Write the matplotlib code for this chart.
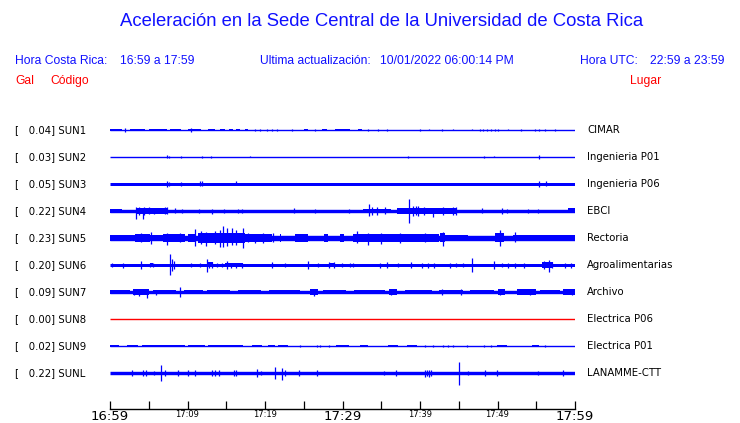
import matplotlib
matplotlib.use("Agg")
import matplotlib.pyplot as plt

# ---------------- data ----------------
codes = ["SUN1", "SUN2", "SUN3", "SUN4", "SUN5", "SUN6", "SUN7", "SUN8", "SUN9", "SUNL"]
peaks = [0.04, 0.03, 0.05, 0.22, 0.23, 0.20, 0.09, 0.00, 0.02, 0.22]
places = ["CIMAR", "Ingenieria P01", "Ingenieria P06", "EBCI", "Rectoria",
          "Agroalimentarias", "Archivo", "Electrica P06", "Electrica P01", "LANAMME-CTT"]
# baseline noise half-amplitude of each trace (display units)
base_noise = [0.5, 0.5, 1.5, 1.7, 2.7, 1.5, 1.7, 0.5, 0.5, 1.7]
trace_colors = ["blue"] * 7 + ["#ff0000"] + ["blue"] * 2

tick_minutes = list(range(0, 61, 5))
tick_labels = ["16:59", "", "17:09", "", "17:19", "", "17:29", "", "17:39", "", "17:49", "", "17:59"]
major_labels = ["16:59", "17:29", "17:59"]

# bursts: (start minute, end minute, half amplitude)
sun1_bursts = [(0, 1.5, 1.2), (2.6, 4.5, 1.0), (5.0, 7.3, 1.2), (7.7, 9.2, 1.2), (10.0, 11.8, 1.3),
               (12.7, 13.5, 1.1), (14.2, 14.8, 1.2), (15.3, 15.9, 1.0), (16.3, 16.8, 1.0),
               (17.4, 17.8, 1.2), (25.0, 25.6, 1.2), (27.3, 28.0, 1.0), (29.0, 31.0, 1.2), (32.0, 32.5, 1.1)]
sun2_bursts = []
sun3_bursts = []
sun4_bursts = [(0, 1.5, 2.2), (3.3, 7.5, 2.6), (32.6, 36.3, 2.3), (37.0, 44.7, 3.0), (59.1, 60, 2.5)]
sun5_bursts = [(0, 3.2, 3.4), (3.2, 5.2, 3.8), (5.2, 6.9, 3.3), (6.9, 7.5, 4.4), (7.5, 9.7, 3.8),
               (10.1, 11.0, 4.4), (11.4, 13.5, 4.8), (13.5, 17.4, 5.4), (17.4, 20.9, 3.8), (21.9, 22.1, 4.2),
               (23.9, 25.6, 3.8), (27.6, 28.1, 3.6), (29.7, 30.2, 3.6), (31.4, 36.8, 4.0),
               (36.8, 42.4, 3.6), (42.6, 43.2, 4.5), (43.2, 46.2, 3.1), (49.7, 50.8, 4.5),
               (52.0, 55.0, 3.3), (55.0, 60.0, 3.4)]
sun6_bursts = [(5.1, 5.6, 2.0), (12.7, 13.3, 2.5), (14.8, 17.2, 2.1), (28.2, 29.0, 2.4), (55.7, 57.2, 2.7)]
sun7_bursts = [(0, 2.6, 2.2), (3.0, 5.0, 2.6), (5.5, 8.5, 2.2), (9.5, 12.0, 2.2), (12.5, 15.5, 2.2),
               (16.5, 19.5, 2.2), (20.5, 24.5, 2.2), (25.8, 26.9, 2.8), (27.5, 30.5, 2.2),
               (31.5, 35.5, 2.2), (36.0, 37.0, 2.6), (38.0, 41.5, 2.2), (42.5, 45.5, 2.4),
               (46.5, 49.5, 2.2), (50.0, 51.0, 2.6), (52.5, 55.0, 2.6), (55.5, 58.0, 2.2), (58.5, 60, 2.6)]
sun8_bursts = []
sun9_bursts = [(0, 1.1, 1.0), (2.2, 3.6, 1.0), (4.1, 9.7, 1.2), (10.1, 12.3, 1.0), (12.7, 17.2, 1.2),
               (18.3, 19.6, 1.0), (20.4, 21.3, 1.0), (21.7, 23.0, 1.2), (29.2, 30.8, 1.0),
               (32.3, 33.3, 1.0), (35.9, 37.2, 1.0), (38.3, 39.6, 1.0), (49.9, 51.2, 1.0), (54.4, 55.3, 1.2)]
sunl_bursts = []

# spikes: (minute, amplitude up, amplitude down)
sun1_spikes = [(1.9, 2.0, 2.0), (10.5, 2.0, 2.0), (18.7, 1.0, 0.6), (19.4, 0.8, 0.8), (20.3, 0.8, 0.8),
               (20.9, 1.0, 0.8), (21.5, 1.2, 1.2), (23.5, 1, 1), (26.5, 1, 1), (33.3, 1, 1),
               (34.6, 1.2, 1.2), (35.8, 0.8, 1.0), (40.0, 1.2, 1.2), (41.2, 0.8, 0.5), (42.8, 0.5, 1.0),
               (44.2, 1.0, 0.5), (46.7, 1.0, 0.5), (47.7, 1.2, 1.2), (48.1, 1.0, 1.0), (48.6, 1.0, 1.0),
               (49.2, 1.3, 1.3), (49.7, 1.2, 1.2), (50.1, 1.0, 1.0), (51.4, 1.0, 0.5), (53.0, 0.5, 1.0),
               (54.8, 1.2, 1.2), (55.3, 1.2, 1.2), (56.1, 1.2, 0.8), (57.4, 1.2, 1.2)]
sun2_spikes = [(7.3, 1.5, 1.5), (7.6, 1.0, 1.5), (9.2, 1.3, 1.3), (11.9, 0, 0.8), (13.0, 0, 0.8),
               (18.1, 0.8, 0), (38.5, 0, 0.8), (48.2, 0, 0.8), (49.5, 0.8, 0), (55.3, 2.3, 2.3)]
sun3_spikes = [(7.4, 2.7, 2.7), (7.6, 2.3, 2.3), (9.2, 2.0, 2.0), (11.6, 2.5, 2.5), (11.9, 2.5, 2.5),
               (16.3, 2.5, 1.5), (55.3, 3.3, 3.3), (56.2, 2.5, 2.5)]
sun4_spikes = [(3.4, 4.3, 8.0), (3.7, 4, 4), (4.2, 3, 7.6), (4.4, 4, 4), (5.0, 3.5, 3), (5.7, 3, 3.5),
               (7.1, 3.5, 3.5), (7.4, 3.5, 3.5), (8.4, 2.5, 2.5), (9.3, 2, 2), (11.5, 1.8, 1.8),
               (13.2, 1.5, 3.5), (14.7, 2, 2), (16.5, 2.2, 2.2), (17, 2.2, 2.2), (23.8, 2.5, 2.5),
               (26.5, 2, 2), (30.9, 2, 2), (33.4, 6.7, 5), (33.8, 4, 4), (34.5, 4, 4), (35.5, 3.5, 3.5),
               (38.6, 12, 11.7), (39.1, 5, 5), (39.5, 4.5, 4.5), (39.8, 5, 5), (40.5, 4, 4), (41.7, 3, 6),
               (43, 4, 4), (44.3, 4, 4), (44.6, 4, 4), (48, 2.5, 2.5), (50.6, 3, 3), (51.2, 2, 2),
               (53.9, 2, 2), (55.2, 2, 2)]
sun5_spikes = [(4.0, 5, 4), (5.3, 6, 6), (7.3, 4.5, 6.7), (9.0, 5, 4), (11.0, 9, 7.7), (11.8, 7, 6),
               (12.4, 6, 8), (13.5, 7, 6), (14.2, 8, 9), (14.6, 12, 9), (15.1, 10, 8), (15.7, 10, 7),
               (16.3, 8, 7), (17.1, 10, 10), (17.8, 5, 4), (18.7, 4, 5), (19.8, 5, 5), (21.0, 4.5, 4.5),
               (31.9, 7, 5), (33.3, 5, 7), (35.0, 5, 6), (37.4, 5, 5), (40.6, 4.5, 4.5), (43.0, 6, 8.3),
               (50.3, 7.7, 8), (52.3, 6, 4)]
sun6_spikes = [(0.2, 2, 2), (1.7, 2.5, 2.5), (3.95, 3.5, 3.5), (5.1, 2, 2), (5.5, 2, 2), (7.8, 11, 10),
               (8.0, 6, 6), (8.2, 4, 4), (10.4, 2, 2), (11.6, 2, 2), (12.5, 6, 7), (12.8, 3, 3),
               (13.2, 3, 3), (13.8, 2, 2), (14.4, 2, 2), (15.1, 3.5, 4), (15.6, 2.5, 2.5), (16.3, 2.5, 2.5),
               (17.0, 2.5, 2.5), (20.9, 3, 3), (22.6, 2, 2), (25.5, 3.5, 3.5), (26.9, 2, 2), (28.2, 3, 3),
               (28.9, 3, 3), (29.9, 2, 2), (31.0, 2, 2), (31.4, 2, 2), (34.8, 2.5, 2.5), (35.7, 3, 3),
               (37.2, 2, 2), (38.9, 3, 3), (40.2, 2.5, 2.5), (41.0, 2.5, 2.5), (41.8, 2.5, 2.5),
               (43.9, 2.5, 2.5), (44.7, 2, 2), (45.6, 2, 2), (46.7, 7, 7), (49.5, 3.5, 3.5), (50.6, 2, 2),
               (51.4, 2.5, 2.5), (52.2, 2.5, 2.5), (53.4, 2.5, 2.5), (56.0, 3.5, 3.5), (56.6, 5, 7),
               (57.0, 3, 3), (58.7, 2.5, 2.5), (59.5, 2.5, 2.5)]
sun7_spikes = [(3.1, 3, 3), (3.8, 3, 3.5), (4.8, 3, 5.7), (5.9, 2.5, 3), (9.0, 5, 4.5), (26.3, 3.5, 3.5),
               (36.3, 3, 3), (42.8, 3, 3), (45.3, 3, 3), (50.3, 3, 3), (54.2, 3, 3), (59.6, 3, 3)]
sun8_spikes = []
sun9_spikes = [(24.5, 1, 1), (26.7, 1, 1), (27.1, 1, 1), (28.2, 1, 1), (40.6, 1.3, 1.3), (41.7, 1, 1),
               (43.0, 1, 1), (43.6, 1.2, 1.2), (44.3, 1, 1), (46.0, 1, 1), (48.2, 1, 1), (49.2, 1, 1),
               (56.1, 1, 1)]
sunl_spikes = [(2.9, 2.5, 2.5), (4.2, 2.5, 2.5), (4.6, 2.5, 2.5), (5.7, 2, 2), (6.6, 8.3, 7.7),
               (7.1, 2.5, 2.5), (8.8, 2.5, 2.5), (10.0, 2.5, 2.5), (11.0, 2.5, 2.5), (13.2, 2.5, 2.5),
               (13.6, 2.5, 2.5), (14.1, 2.5, 2.5), (16.0, 2.5, 2.5), (16.3, 2.5, 2.5), (19.0, 3.7, 3.7),
               (19.5, 2, 2), (21.3, 6.3, 6.3), (22.2, 5.3, 7.3), (22.6, 2.5, 2.5), (24.4, 3, 3),
               (26.7, 2.5, 2.5), (35.4, 2, 2), (36.9, 3, 3), (40.6, 3.5, 3.5), (40.9, 3, 3), (41.1, 3.5, 3.5),
               (41.4, 2.5, 2.5), (45.0, 11.3, 12.3), (46.2, 2, 2), (48.4, 2.5, 2.5), (49.9, 2.5, 2.5),
               (55.2, 2, 2), (58.5, 2.5, 2.5)]

all_bursts = [sun1_bursts, sun2_bursts, sun3_bursts, sun4_bursts, sun5_bursts,
              sun6_bursts, sun7_bursts, sun8_bursts, sun9_bursts, sunl_bursts]
all_spikes = [sun1_spikes, sun2_spikes, sun3_spikes, sun4_spikes, sun5_spikes,
              sun6_spikes, sun7_spikes, sun8_spikes, sun9_spikes, sunl_spikes]

# ---------------- layout ----------------
W, H = 740, 423
fig = plt.figure(figsize=(W / 100, H / 100), dpi=100)
fig.patch.set_facecolor("white")

ROW_PX = 27.0
first_row_px = 130.0
ax_left, ax_right = 110, 575
ax_top, ax_bottom = 118, 409
ax = fig.add_axes([ax_left / W, 1 - ax_bottom / H, (ax_right - ax_left) / W, (ax_bottom - ax_top) / H])
ax.set_xlim(0, 60)
ax.set_ylim((ax_bottom - first_row_px) / ROW_PX, (ax_top - first_row_px) / ROW_PX)
ax.patch.set_alpha(0)
for s in ["top", "left", "right"]:
    ax.spines[s].set_visible(False)
ax.spines["bottom"].set_linewidth(1.0)
ax.tick_params(axis="y", left=False, labelleft=False)
ax.set_xticks(tick_minutes)
ax.set_xticklabels(tick_labels)
ax.tick_params(axis="x", direction="in", length=5.8, width=0.9, pad=0.5, colors="black")
for lab in ax.get_xticklabels():
    if lab.get_text() in major_labels:
        lab.set_fontsize(9.5)
    else:
        lab.set_fontsize(6)
    lab.set_family("DejaVu Sans")

u = 1.0 / ROW_PX  # display units -> row units

for i in range(len(codes)):
    c = trace_colors[i]
    b = base_noise[i]
    lw = max(2 * b, 1.4) * 0.72
    ax.plot([0, 60], [i, i], color=c, lw=lw, solid_capstyle="butt")
    for (t0, t1, a) in all_bursts[i]:
        ax.fill_between([t0, t1], i - a * u, i + a * u, color=c, lw=0)
    for (t, up, dn) in all_spikes[i]:
        ax.plot([t, t], [i - max(up, b) * u, i + max(dn, b) * u], color=c, lw=0.9, solid_capstyle="butt")

    ypx = first_row_px + ROW_PX * i
    fig.text(15 / W, 1 - ypx / H, "[   %.2f] %s" % (peaks[i], codes[i]), fontsize=7.3,
             family="DejaVu Sans", va="center", ha="left", color="black")
    fig.text(587 / W, 1 - ypx / H, places[i], fontsize=7.3, family="DejaVu Sans",
             va="center", ha="left", color="black")

# ---------------- header texts ----------------
hf = "Liberation Sans"
blue_txt = "#1010ff"
fig.text(382 / W, 1 - 22 / H, "Aceleración en la Sede Central de la Universidad de Costa Rica",
         fontsize=13.3, family=hf, color=blue_txt, ha="center", va="center")
fs2 = 8.7
fig.text(15 / W, 1 - 61 / H, "Hora Costa Rica:", fontsize=fs2, family=hf, color=blue_txt, va="center")
fig.text(120 / W, 1 - 61 / H, "16:59 a 17:59", fontsize=fs2, family=hf, color=blue_txt, va="center")
fig.text(260 / W, 1 - 61 / H, "Ultima actualización:", fontsize=fs2, family=hf, color=blue_txt, va="center")
fig.text(380 / W, 1 - 61 / H, "10/01/2022 06:00:14 PM", fontsize=fs2, family=hf, color=blue_txt, va="center")
fig.text(580 / W, 1 - 61 / H, "Hora UTC:", fontsize=fs2, family=hf, color=blue_txt, va="center")
fig.text(650 / W, 1 - 61 / H, "22:59 a 23:59", fontsize=fs2, family=hf, color=blue_txt, va="center")
fig.text(15 / W, 1 - 81 / H, "Gal", fontsize=fs2, family=hf, color="#ff0000", va="center")
fig.text(50 / W, 1 - 81 / H, "Código", fontsize=fs2, family=hf, color="#ff0000", va="center")
fig.text(630 / W, 1 - 81 / H, "Lugar", fontsize=fs2, family=hf, color="#ff0000", va="center")

fig.savefig("out.png", dpi=100, facecolor="white")
